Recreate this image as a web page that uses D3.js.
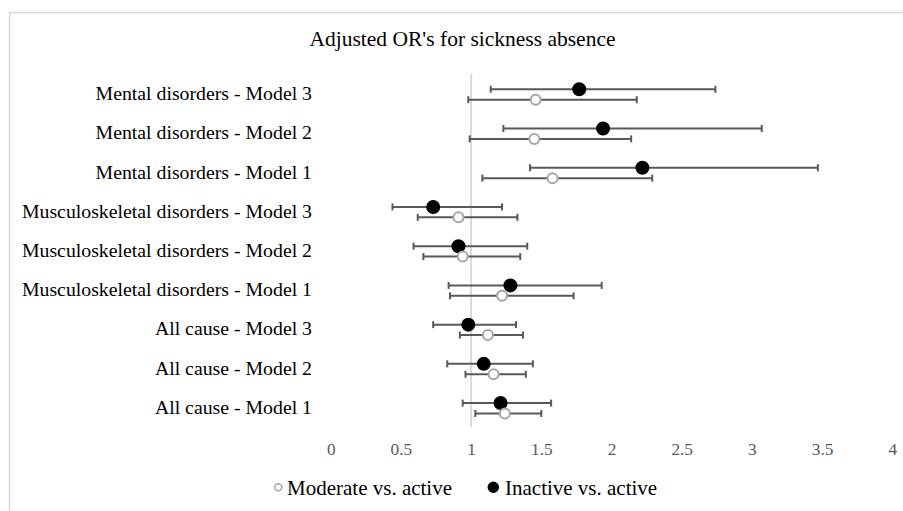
<!DOCTYPE html>
<meta charset="utf-8">
<style>
body{margin:0;background:#fff;}
svg{display:block;font-family:"Liberation Serif","Times New Roman",serif;}
</style>
<svg id="chart" width="903" height="511"></svg>
<script src="https://d3js.org/d3.v7.min.js"></script>
<script>
// Forest plot: adjusted odds ratios with 95% CI, two exposure groups per row

// rows, top to bottom
const categories = [
  "Mental disorders - Model 3",
  "Mental disorders - Model 2",
  "Mental disorders - Model 1",
  "Musculoskeletal disorders - Model 3",
  "Musculoskeletal disorders - Model 2",
  "Musculoskeletal disorders - Model 1",
  "All cause - Model 3",
  "All cause - Model 2",
  "All cause - Model 1"
]

// Moderate vs. active (open markers)
const moderateOR   = [1.46, 1.45, 1.58, 0.91, 0.94, 1.22, 1.12, 1.16, 1.24]
const moderateLow  = [0.98, 0.99, 1.08, 0.62, 0.66, 0.85, 0.92, 0.96, 1.03]
const moderateHigh = [2.18, 2.14, 2.29, 1.33, 1.35, 1.73, 1.37, 1.39, 1.50]

// Inactive vs. active (filled markers)
const inactiveOR   = [1.77, 1.94, 2.22, 0.73, 0.91, 1.28, 0.98, 1.09, 1.21]
const inactiveLow  = [1.14, 1.23, 1.42, 0.44, 0.59, 0.84, 0.73, 0.83, 0.94]
const inactiveHigh = [2.74, 3.07, 3.47, 1.22, 1.40, 1.93, 1.32, 1.44, 1.57]

const xTicks = [0, 0.5, 1, 1.5, 2, 2.5, 3, 3.5, 4]
const seriesNames = ["Moderate vs. active", "Inactive vs. active"]

const svg = d3.select('#chart')
const W = 903, H = 511
const plot = {left: 330.7, right: 892.3, top: 74, bottom: 427}

// chart frame (right and bottom edges fall outside the picture)
svg.append('rect')
  .attr('x', 9.5).attr('y', 12.5)
  .attr('width', W).attr('height', H)
  .attr('fill', '#fff')
  .attr('stroke', '#d9d9d9').attr('stroke-width', 1.5)

svg.append('text')
  .attr('x', 462.5).attr('y', 46)
  .attr('text-anchor', 'middle')
  .style('font-size', '21.5px')
  .attr('fill', '#000')
  .text("Adjusted OR's for sickness absence")

const x = d3.scaleLinear().domain([0, 4]).range([plot.left, plot.right])
const y = d3.scaleBand().domain(categories).range([plot.top, plot.bottom])

// vertical axis crosses at OR = 1
svg.append('line')
  .attr('x1', x(1)).attr('x2', x(1))
  .attr('y1', plot.top).attr('y2', plot.bottom)
  .attr('stroke', '#d9d9d9').attr('stroke-width', 2)

// x tick labels only
const xAxis = svg.append('g')
  .attr('transform', `translate(0,${plot.bottom})`)
  .call(d3.axisBottom(x).tickValues(xTicks).tickSize(0).tickPadding(16)
    .tickFormat(d3.format('')))
xAxis.select('.domain').remove()
xAxis.selectAll('text')
  .style('font-family', '"Liberation Serif","Times New Roman",serif')
  .style('font-size', '17.3px')
  .attr('fill', '#595959')

// category labels
const yAxis = svg.append('g')
  .attr('transform', `translate(${plot.left},0)`)
  .call(d3.axisLeft(y).tickSize(0).tickPadding(18.7))
yAxis.select('.domain').remove()
yAxis.selectAll('text')
  .style('font-family', '"Liberation Serif","Times New Roman",serif')
  .style('font-size', '19.8px')
  .attr('fill', '#000')
  .attr('dy', '0.33em')

const series = [
  {name: seriesNames[1], or: inactiveOR, lo: inactiveLow, hi: inactiveHigh,
   shift: -0.11, r: 6, fill: '#000', stroke: '#000'},
  {name: seriesNames[0], or: moderateOR, lo: moderateLow, hi: moderateHigh,
   shift: 0.155, r: 5, fill: '#fff', stroke: '#a6a6a6'}
]

const capH = 3.5
series.forEach(s => {
  const rows = categories.map((c, i) => ({
    cy: y(c) + y.bandwidth() * (0.5 + s.shift),
    or: s.or[i], lo: s.lo[i], hi: s.hi[i]
  }))
  const g = svg.append('g')
  const bars = g.selectAll('g.err').data(rows).enter().append('g').attr('class', 'err')
    .attr('stroke', '#595959').attr('stroke-width', 2)
  bars.append('line')
    .attr('x1', d => x(d.lo)).attr('x2', d => x(d.hi))
    .attr('y1', d => d.cy).attr('y2', d => d.cy)
  bars.append('line')
    .attr('x1', d => x(d.lo)).attr('x2', d => x(d.lo))
    .attr('y1', d => d.cy - capH).attr('y2', d => d.cy + capH)
  bars.append('line')
    .attr('x1', d => x(d.hi)).attr('x2', d => x(d.hi))
    .attr('y1', d => d.cy - capH).attr('y2', d => d.cy + capH)
  g.selectAll('circle').data(rows).enter().append('circle')
    .attr('cx', d => x(d.or)).attr('cy', d => d.cy)
    .attr('r', s.r)
    .attr('fill', s.fill)
    .attr('stroke', s.stroke).attr('stroke-width', 2)
})

// legend
const legend = [
  {name: seriesNames[0], cx: 278.3, tx: 287, r: 3.5, fill: '#fff', stroke: '#a6a6a6'},
  {name: seriesNames[1], cx: 493.3, tx: 505, r: 5, fill: '#000', stroke: '#000'}
]
const lg = svg.append('g').selectAll('g').data(legend).enter().append('g')
lg.append('circle')
  .attr('cx', d => d.cx).attr('cy', 487.3).attr('r', d => d.r)
  .attr('fill', d => d.fill).attr('stroke', d => d.stroke).attr('stroke-width', 1.5)
lg.append('text')
  .attr('x', d => d.tx).attr('y', 495)
  .style('font-size', '21px')
  .attr('fill', '#000')
  .text(d => d.name)
</script>
